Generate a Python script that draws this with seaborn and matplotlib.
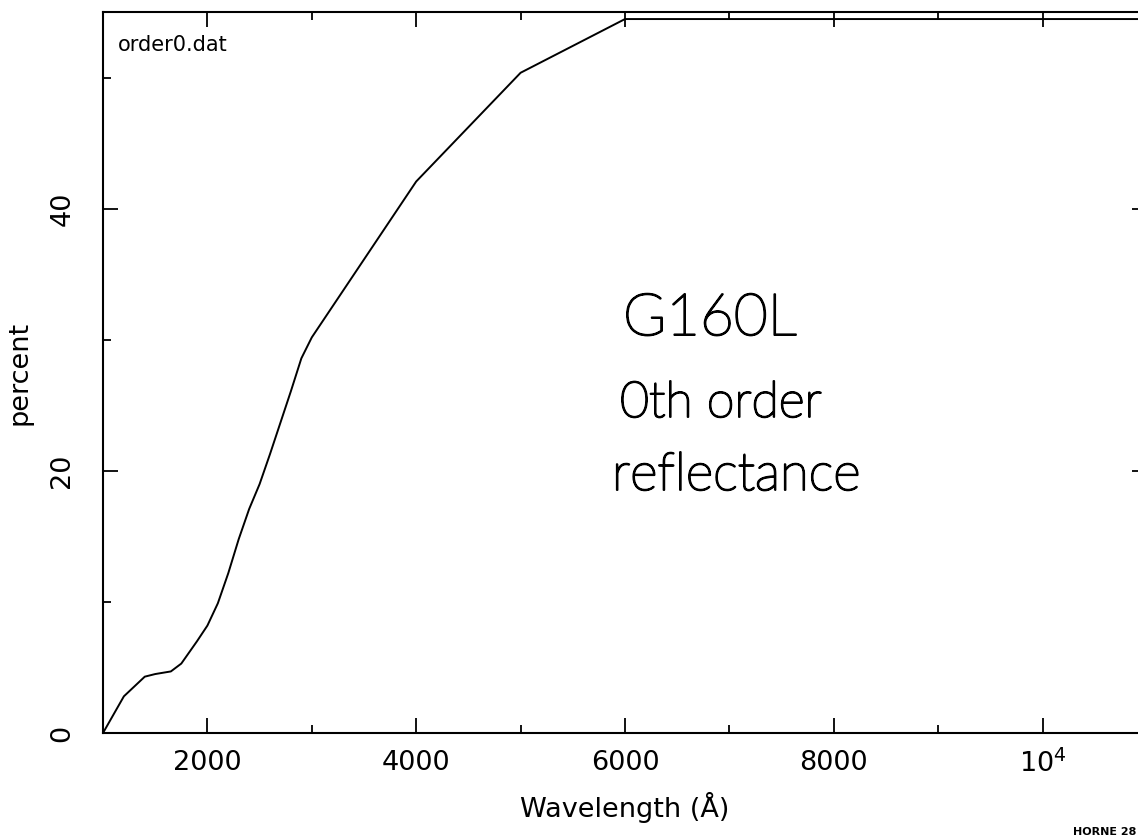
import matplotlib
matplotlib.use("Agg")
import matplotlib.pyplot as plt
import matplotlib.patheffects as pe
import numpy as np
import pandas as pd
import seaborn as sns
from matplotlib.ticker import FixedLocator, MultipleLocator

# Zeroth-order reflectance of the G160L grating (order0.dat)
wavelength = [1000, 1200, 1400, 1500, 1650, 1750, 1900, 2000, 2100, 2200, 2300,
              2400, 2500, 2600, 2700, 2800, 2900, 3000, 4000, 5000, 6000, 11000]
percent = [0.0, 2.8, 4.3, 4.5, 4.7, 5.3, 7.0, 8.2, 9.9, 12.2, 14.8,
           17.1, 19.0, 21.3, 23.7, 26.1, 28.6, 30.2, 42.1, 50.4, 54.5, 54.5]

x_major = [2000, 4000, 6000, 8000, 10000]
x_labels = ["2000", "4000", "6000", "8000", r"$\mathregular{10^4}$"]
y_major = [0, 20, 40]
y_labels = ["0", "20", "40"]

sns.set_theme(style="ticks")
plt.rcParams["font.family"] = ["DejaVu Sans"]
plt.rcParams["mathtext.fontset"] = "dejavusans"

W, H = 1138, 838
fig = plt.figure(figsize=(W / 100, H / 100), dpi=100)
fig.patch.set_facecolor("white")
# the frame runs slightly past the right edge of the sheet
ax = fig.add_axes([103 / W, 105 / H, 1044 / W, 720.5 / H])
ax.set_facecolor("white")

df = pd.DataFrame({"wavelength": wavelength, "percent": percent})
sns.lineplot(data=df, x="wavelength", y="percent", ax=ax, color="black",
             linewidth=1.4, sort=False)

ax.set_xlim(1000, 11000)
ax.set_ylim(0, 55)
ax.grid(False)

ax.xaxis.set_major_locator(FixedLocator(x_major))
ax.set_xticklabels(x_labels)
ax.xaxis.set_minor_locator(MultipleLocator(1000))
ax.yaxis.set_major_locator(FixedLocator(y_major))
ax.set_yticklabels(y_labels, rotation=90, va="center")
ax.yaxis.set_minor_locator(MultipleLocator(10))

ax.tick_params(which="both", direction="in", top=True, right=True,
               color="black", width=1.3, labelsize=19.5, labelcolor="black")
ax.tick_params(which="major", length=11)
ax.tick_params(which="minor", length=5.5)
ax.tick_params(axis="x", which="both", pad=12)
ax.tick_params(axis="y", which="both", pad=20)

for s in ax.spines.values():
    s.set_color("black")
    s.set_linewidth(1.5)

ax.set_xlabel("Wavelength (Å)", fontsize=19.5, color="black", labelpad=10)
ax.set_ylabel("percent", fontsize=19.5, color="black", labelpad=12)

ax.text(0.0144, 0.969, "order0.dat", transform=ax.transAxes, fontsize=15,
        ha="left", va="top", color="black")

# pen notes written on the plot: thin face with a pen-width outline
pen = [pe.withStroke(linewidth=1.4, foreground="black")]
note_font = dict(family=["Lato", "DejaVu Sans"], weight="light", color="black",
                 path_effects=pen)
fig.text(623 / W, 1 - 335 / H, "G160L", fontsize=42, va="baseline", **note_font)
fig.text(620 / W, 1 - 417 / H, "0th order", fontsize=36, va="baseline", **note_font)
fig.text(612 / W, 1 - 490 / H, "reflectance", fontsize=38, va="baseline", **note_font)

fig.text(1136 / W, 1 - 837 / H, "HORNE 28", fontsize=8, weight="bold",
         ha="right", va="bottom", color="black")

fig.savefig("out.png", dpi=100, facecolor="white")
